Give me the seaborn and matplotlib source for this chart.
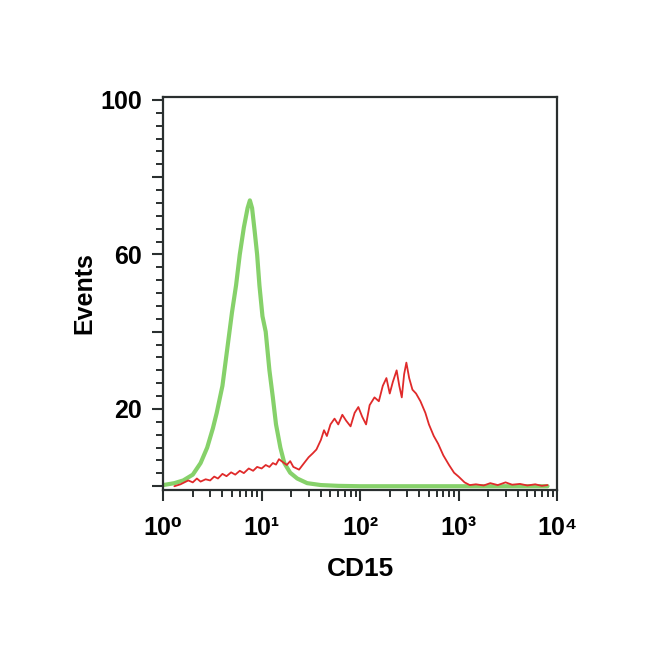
import numpy as np
import pandas as pd
import matplotlib
matplotlib.use("Agg")
import matplotlib.pyplot as plt
from matplotlib.ticker import FixedLocator, MultipleLocator, LogLocator, NullFormatter
import seaborn as sns

# isotype control (green)
green_x = [1.0, 1.3, 1.6, 2.0, 2.4, 2.8, 3.2, 3.5, 4.0, 4.5, 5.0, 5.5, 6.0, 6.6, 7.2,
           7.6, 8.0, 8.5, 9.0, 9.5, 10.2, 11.0, 12.0, 13.0, 14.0, 15.5, 17.0, 19.5,
           23.0, 29.0, 40.0, 60.0, 100.0, 200.0, 1000.0, 8000.0]
green_y = [0.3, 0.8, 1.5, 3.0, 6.0, 10.0, 15.0, 19.0, 26.0, 36.0, 45.0, 52.0, 60.0, 67.0,
           72.0, 74.0, 72.0, 66.0, 60.0, 52.0, 44.0, 40.0, 30.0, 23.0, 16.0, 10.0, 6.0,
           3.5, 2.0, 0.8, 0.3, 0.1, 0.0, 0.0, 0.0, 0.0]

# CD15 stained (red)
red_x = [1.3, 1.5, 1.8, 2.0, 2.2, 2.4, 2.7, 3.0, 3.3, 3.6, 4.0, 4.4, 4.9, 5.4, 6.0, 6.6,
         7.4, 8.2, 9.0, 10.0, 11, 12, 13, 14, 15, 16.5, 18, 19.5, 21, 24, 27, 30, 33, 36,
         40, 43, 46, 50, 55, 60, 66, 72, 80, 88, 96, 105, 115, 125, 140, 155, 170, 185,
         200, 215, 235, 250, 265, 280, 295, 315, 340, 370, 410, 460, 500, 560, 620, 700,
         800, 900, 1000, 1150, 1300, 1500, 1800, 2100, 2500, 3000, 3500, 4200, 5000, 6000,
         7000, 8000]
red_y = [0.0, 0.5, 1.5, 1.0, 2.0, 1.2, 1.8, 1.5, 2.5, 2.0, 3.2, 2.6, 3.6, 3.0, 4.0, 3.4,
         4.6, 4.0, 5.0, 4.6, 5.5, 5.0, 6.0, 5.6, 7.0, 6.2, 5.5, 6.5, 5.0, 4.3, 6.0, 7.5,
         8.5, 9.5, 12, 14.5, 13, 16, 17.5, 16, 18.5, 17, 15.5, 19, 20.5, 18, 16, 21, 23,
         22, 26, 28, 24, 27, 30, 26, 23, 29, 32, 28, 25, 24, 22, 19, 16, 13, 11, 8, 5.5,
         3.5, 2.5, 1.0, 0.3, 0.5, 0.2, 0.8, 0.3, 1.0, 0.4, 0.6, 0.2, 0.5, 0.1, 0.3]

x_ticks = [1, 10, 100, 1000, 10000]
x_labels = ["10\u2070", "10\u00b9", "10\u00b2", "10\u00b3", "10\u2074"]
y_ticks = [0, 20, 40, 60, 80, 100]
y_labels = ["", "20", "", "60", "", "100"]

sns.set_style("ticks")
plt.rcParams["font.family"] = ["Liberation Sans", "DejaVu Sans"]

fig = plt.figure(figsize=(6.5, 6.5), dpi=100)
ax = fig.add_axes([0.251, 0.246, 0.606, 0.605])

green = pd.DataFrame({"x": green_x, "y": green_y})
red = pd.DataFrame({"x": red_x, "y": red_y})
sns.lineplot(data=green, x="x", y="y", ax=ax, color="#86d16a", linewidth=3, sort=False)
sns.lineplot(data=red, x="x", y="y", ax=ax, color="#e02a2a", linewidth=1.3, sort=False)

ax.set_xscale("log")
ax.set_xlim(1, 10000)
ax.set_ylim(-1, 100.8)

ax.xaxis.set_major_locator(FixedLocator(x_ticks))
ax.set_xticklabels(x_labels)
ax.xaxis.set_minor_locator(LogLocator(base=10, subs=np.arange(2, 10)))
ax.xaxis.set_minor_formatter(NullFormatter())
ax.yaxis.set_major_locator(FixedLocator(y_ticks))
ax.set_yticklabels(y_labels)
ax.yaxis.set_minor_locator(MultipleLocator(20 / 6))

for s in ax.spines.values():
    s.set_color("#2a2f2f")
    s.set_linewidth(1.6)

ax.tick_params(axis="both", which="major", length=8, width=1.5, color="#2a2f2f",
               labelsize=18, labelcolor="black", pad=7)
ax.tick_params(axis="x", which="major", pad=11)
ax.tick_params(axis="both", which="minor", length=5, width=1.4, color="#2a2f2f")
for lab in ax.get_xticklabels() + ax.get_yticklabels():
    lab.set_fontweight("bold")

ax.set_xlabel("CD15", fontsize=19, fontweight="bold", color="black", labelpad=12)
ax.set_ylabel("Events", fontsize=18, fontweight="bold", color="black", labelpad=3)

fig.savefig("out.png", dpi=100, facecolor="white")
